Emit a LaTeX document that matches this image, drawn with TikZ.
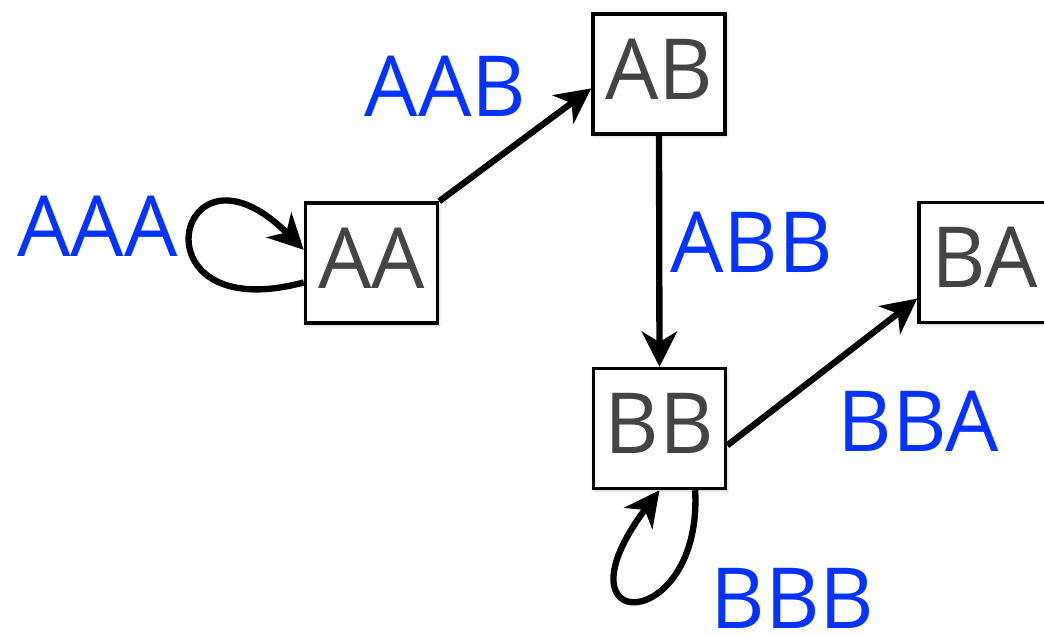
\documentclass[tikz,border=0pt]{standalone}
\usepackage{fontspec}
\setmainfont{Open Sans}
\usetikzlibrary{arrows.meta, shadows.blur}
\definecolor{mygray}{RGB}{68,68,68}
\definecolor{myblue}{RGB}{4,51,255}
\newcommand{\widthstate}{2.64cm}
\newcommand{\heightstate}{2.4cm}
\tikzset{
    common/.style={font=\fontsize{48}{56}\selectfont, inner sep=0pt},
    state/.style={common, draw, rectangle, line width=2pt, fill=white, text=mygray,
        minimum width=\widthstate, minimum height=\heightstate,
        text height=1.21cm, text depth=0.2cm,
        blur shadow={shadow xshift=0.6pt, shadow yshift=-0.9pt, shadow opacity=25, shadow blur steps=4}},
    word/.style={common, text=myblue},
    edge/.style={->, line width=3.6pt},
    >={Stealth[length=20pt, width=20pt, inset=6pt]}
}

\begin{document}
\begin{tikzpicture}[x=0.02cm, y=-0.02cm]
            \useasboundingbox (0,0) rectangle (1044,635);
            \node[state] (AA) at (371.5,263) {AA};
            \node[state] (AB) at (659,74) {AB};
            \node[state] (BA) at (985,262.5) {BA};
            \node[state] (BB) at (659.5,428.5) {BB};

            \node[word] (AAA) at (97.5,226) {AAA};
            \node[word] (AAB) at (445.5,86) {AAB};
            \node[word] (ABB) at (751.5,242.5) {ABB};
            \node[word] (BBA) at (918,421) {BBA};
            \node[word] (BBB) at (792.5,598) {BBB};

            \draw[edge] (AA.north east) -- (AB.192);
            \draw[edge] (AB.south) -- (BB.north);
            \draw[edge] (BB.346) -- (BA.208);
            \draw[edge] (AA.196) .. controls +(195:3.6cm) and +(135:3.6cm) .. (AA.169);
            \draw[edge] (BB.300) .. controls +(273:2.9cm) and +(233:3.7cm) .. (BB.south);
        \end{tikzpicture}
\end{document}
